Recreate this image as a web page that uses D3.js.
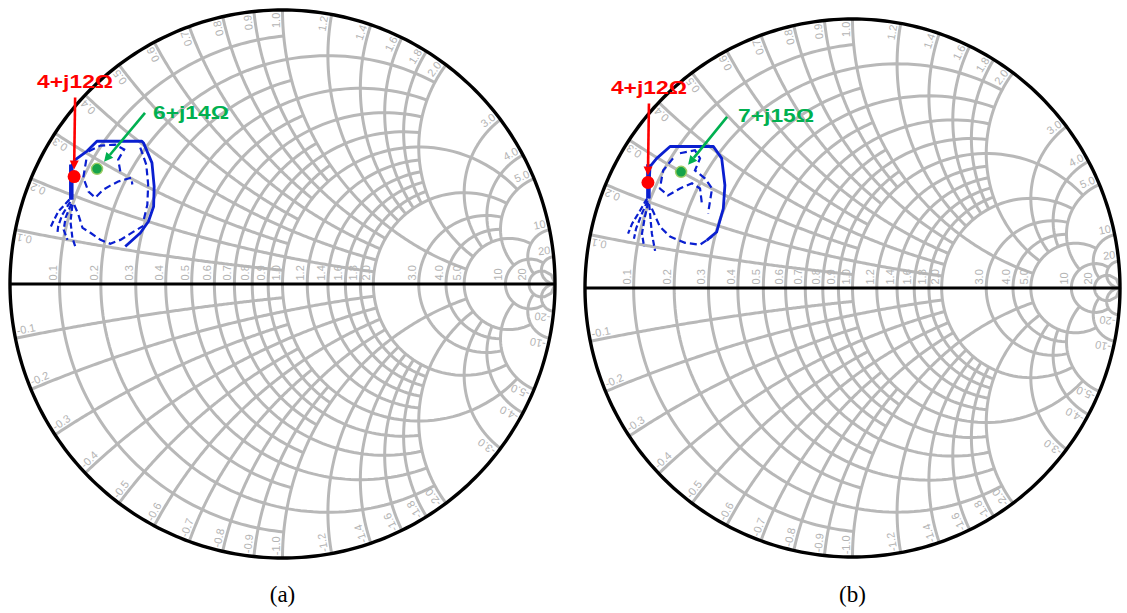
<!DOCTYPE html>
<html><head><meta charset="utf-8">
<script src="https://cdn.jsdelivr.net/npm/d3@7"></script>
<style>body{margin:0;background:#fff}svg{display:block}</style>
</head><body>
<svg id="c" width="1127" height="613"></svg>
<script>
// ---------- grid values ----------
const gridValues = [0.1,0.2,0.3,0.4,0.5,0.6,0.7,0.8,0.9,1.0,1.2,1.4,1.6,1.8,2.0,3,4,5,10,20];
const gridLimits = [1,2,1,2,1,2,1,2,1,5,2,2,2,2,5,5,5,10,20,Infinity];
const gridLabels = ["0.1","0.2","0.3","0.4","0.5","0.6","0.7","0.8","0.9","1.0","1.2","1.4","1.6","1.8","2.0","3.0","4.0","5.0","10","20"];
const Z0 = 50;
// ---------- panel (a) ----------
const markerA_red = [4,12];
const markerA_green = [6,14];
const labelsA = ["4+j12\u03A9","6+j14\u03A9"];
const solidA = [[-0.577,0.137],[-0.522,0.186],[-0.492,0.228],[-0.473,0.283],[-0.471,0.356],[-0.479,0.442],[-0.510,0.515],[-0.516,0.521],[-0.681,0.521],[-0.717,0.485],[-0.760,0.454],[-0.775,0.430],[-0.776,0.308]];
const thickA = [[-0.775,0.436],[-0.775,0.308]];
const fanA = [
  [[-0.782,0.308],[-0.823,0.264],[-0.842,0.227],[-0.852,0.205]],
  [[-0.779,0.300],[-0.808,0.253],[-0.823,0.212],[-0.826,0.187]],
  [[-0.775,0.292],[-0.796,0.242],[-0.803,0.198],[-0.789,0.161]],
  [[-0.771,0.289],[-0.778,0.227],[-0.771,0.168],[-0.760,0.135]]
];
const dashedA = [
  [[-0.764,0.289],[-0.749,0.253],[-0.734,0.205],[-0.705,0.187],[-0.668,0.161],[-0.632,0.147],[-0.595,0.161],[-0.548,0.190],[-0.511,0.212]],
  [[-0.720,0.454],[-0.731,0.388],[-0.712,0.337],[-0.687,0.315],[-0.658,0.344],[-0.632,0.359],[-0.603,0.374],[-0.555,0.388],[-0.551,0.363]],
  [[-0.712,0.484],[-0.668,0.505],[-0.614,0.509],[-0.581,0.491],[-0.603,0.454],[-0.595,0.410]],
  [[-0.522,0.498],[-0.500,0.436],[-0.493,0.363],[-0.496,0.289],[-0.511,0.227]]
];
// ---------- panel (b) ----------
const markerB_red = [4,12];
const markerB_green = [7,15];
const labelsB = ["4+j12\u03A9","7+j15\u03A9"];
const solidB = [[-0.545,0.177],[-0.508,0.208],[-0.483,0.295],[-0.477,0.382],[-0.489,0.482],[-0.520,0.526],[-0.682,0.526],[-0.732,0.482],[-0.757,0.451],[-0.763,0.333]];
const thickB = [[-0.763,0.460],[-0.763,0.333]];
const fanB = [
  [[-0.768,0.333],[-0.794,0.288],[-0.824,0.239],[-0.839,0.202]],
  [[-0.766,0.325],[-0.787,0.277],[-0.809,0.221],[-0.817,0.183]],
  [[-0.764,0.318],[-0.776,0.265],[-0.787,0.202],[-0.779,0.153]],
  [[-0.760,0.312],[-0.757,0.277],[-0.750,0.202],[-0.738,0.138]]
];
const dashedB = [
  [[-0.750,0.295],[-0.720,0.228],[-0.682,0.191],[-0.626,0.168],[-0.570,0.161],[-0.525,0.191]],
  [[-0.671,0.482],[-0.708,0.437],[-0.720,0.370],[-0.690,0.344],[-0.645,0.370],[-0.600,0.389],[-0.570,0.370],[-0.563,0.314]],
  [[-0.645,0.501],[-0.589,0.512],[-0.570,0.482],[-0.589,0.437],[-0.551,0.407],[-0.525,0.370],[-0.540,0.277]]
];
const captions = ["(a)","(b)"];

const svg = d3.select("#c");
const GRID = "#b8b8b8", LABEL = "#b4b4b4", BLUE = "#0a1fd0", RED = "#ff0000", GREEN = "#00b050";

function gamma(r, x){ const d=(r+1)*(r+1)+x*x; return [(r*r+x*x-1)/d, 2*x/d]; }
function zToGamma(R, X){ return gamma(R/Z0, X/Z0); }

function drawPanel(cx, cy, Rx, Ry, data){
  const g = svg.append("g");
  const sx = d3.scaleLinear().domain([-1,1]).range([cx-Rx, cx+Rx]);
  const sy = d3.scaleLinear().domain([-1,1]).range([cy+Ry, cy-Ry]);
  const line = d3.line().x(d=>sx(d[0])).y(d=>sy(d[1]));
  const N = 160;
  const SW = 3;
  gridValues.forEach((r,i)=>{
    const t0 = Math.atan(gridLimits[i]);
    const pts = d3.range(N+1).map(k=>{ const t=-t0+2*t0*k/N; return gamma(r, Math.tan(t)); });
    g.append("path").attr("d", line(pts)).attr("fill","none").attr("stroke",GRID).attr("stroke-width",SW);
  });
  gridValues.forEach((x,i)=>{
    const t0 = Math.atan(gridLimits[i]);
    [1,-1].forEach(s=>{
      const pts = d3.range(N+1).map(k=>{ const t=t0*k/N; return gamma(Math.tan(t), s*x); });
      g.append("path").attr("d", line(pts)).attr("fill","none").attr("stroke",GRID).attr("stroke-width",SW);
    });
  });
  gridValues.forEach((r,i)=>{
    const p = gamma(r,0);
    const px = sx(p[0]) - 3, py = sy(0) - 3.5;
    g.append("text").attr("transform",`translate(${px},${py}) rotate(-90)`)
      .attr("font-family","Liberation Sans, Arial, sans-serif").attr("font-size",11).attr("fill",LABEL)
      .attr("text-anchor","start").text(gridLabels[i]);
  });
  gridValues.forEach((x,i)=>{
    [1,-1].forEach(s=>{
      const p = gamma(0, s*x);
      const phi = Math.atan2(p[1], p[0]);
      const ex = sx(Math.cos(phi)*0.99), ey = sy(Math.sin(phi)*0.99);
      const rot = s>0 ? -phi*180/Math.PI : 180 - phi*180/Math.PI;
      g.append("text").attr("transform",`translate(${ex},${ey}) rotate(${rot}) translate(0,-3)`)
        .attr("font-family","Liberation Sans, Arial, sans-serif").attr("font-size",11).attr("fill",LABEL)
        .attr("text-anchor", s>0 ? "end" : "start").text((s<0?"-":"")+gridLabels[i]);
    });
  });
  const rim = d3.range(361).map(k=>[Math.cos(k*Math.PI/180), Math.sin(k*Math.PI/180)]);
  g.append("path").attr("d",line(rim)+"Z").attr("fill","none").attr("stroke","#000").attr("stroke-width",3.4);
  g.append("line").attr("x1",sx(-1)).attr("x2",sx(1)).attr("y1",sy(0)).attr("y2",sy(0)).attr("stroke","#000").attr("stroke-width",3.2);

  data.fan.forEach(f=> g.append("path").attr("d",line(f)).attr("fill","none").attr("stroke",BLUE).attr("stroke-width",2.2).attr("stroke-dasharray","6,3"));
  data.dashed.forEach(f=> g.append("path").attr("d",line(f)).attr("fill","none").attr("stroke",BLUE).attr("stroke-width",2.2).attr("stroke-dasharray","7,4"));
  g.append("path").attr("d",line(data.solid)).attr("fill","none").attr("stroke",BLUE).attr("stroke-width",2.8).attr("stroke-linejoin","round");
  g.append("path").attr("d",line(data.thick)).attr("fill","none").attr("stroke",BLUE).attr("stroke-width",4.5);

  const red = zToGamma(...data.red), green = zToGamma(...data.green);
  const rx = sx(red[0]), ry = sy(red[1]), gx = sx(green[0]), gy = sy(green[1]);
  g.append("circle").attr("cx",rx).attr("cy",ry).attr("r",6.5).attr("fill",RED);
  g.append("circle").attr("cx",gx).attr("cy",gy).attr("r",5.5).attr("fill","#16a34a").attr("stroke","#9ccc65").attr("stroke-width",1.5);

  function arrow(x1,y1,x2,y2,color){
    const a = Math.atan2(y2-y1,x2-x1), L=9, W=4.5;
    const bx = x2 - L*Math.cos(a), by = y2 - L*Math.sin(a);
    g.append("line").attr("x1",x1).attr("y1",y1).attr("x2",bx).attr("y2",by).attr("stroke",color).attr("stroke-width",2.6);
    g.append("path").attr("d",`M${x2},${y2}L${bx+W*Math.sin(a)},${by-W*Math.cos(a)}L${bx-W*Math.sin(a)},${by+W*Math.cos(a)}Z`).attr("fill",color);
  }
  arrow(rx+1, ry-79, rx, ry-7, RED);
  arrow(gx+data.gArrow[0], gy+data.gArrow[1], gx+7, gy-7, GREEN);

  g.append("text").attr("x",rx+1).attr("y",ry-89).attr("text-anchor","middle")
    .attr("font-family","Liberation Sans, Arial, sans-serif").attr("font-weight","bold").attr("font-size",19)
    .attr("fill",RED).attr("textLength",76).attr("lengthAdjust","spacingAndGlyphs").text(data.labels[0]);
  g.append("text").attr("x",gx+data.gLabel[0]).attr("y",gy+data.gLabel[1]).attr("text-anchor","start")
    .attr("font-family","Liberation Sans, Arial, sans-serif").attr("font-weight","bold").attr("font-size",19)
    .attr("fill",GREEN).attr("textLength",76).attr("lengthAdjust","spacingAndGlyphs").text(data.labels[1]);

  g.append("text").attr("x",cx).attr("y",602).attr("text-anchor","middle")
    .attr("font-family","Liberation Serif, DejaVu Serif, serif").attr("font-size",23).attr("fill","#000").text(data.caption);
}

drawPanel(282.5, 284, 272.5, 274, {solid:solidA, thick:thickA, fan:fanA, dashed:dashedA, red:markerA_red, green:markerA_green, labels:labelsA, caption:captions[0], gArrow:[48,-56], gLabel:[56,-50]});
drawPanel(852.5, 288, 267.5, 269, {solid:solidB, thick:thickB, fan:fanB, dashed:dashedB, red:markerB_red, green:markerB_green, labels:labelsB, caption:captions[1], gArrow:[46,-55], gLabel:[57,-50]});
</script>
</body></html>
